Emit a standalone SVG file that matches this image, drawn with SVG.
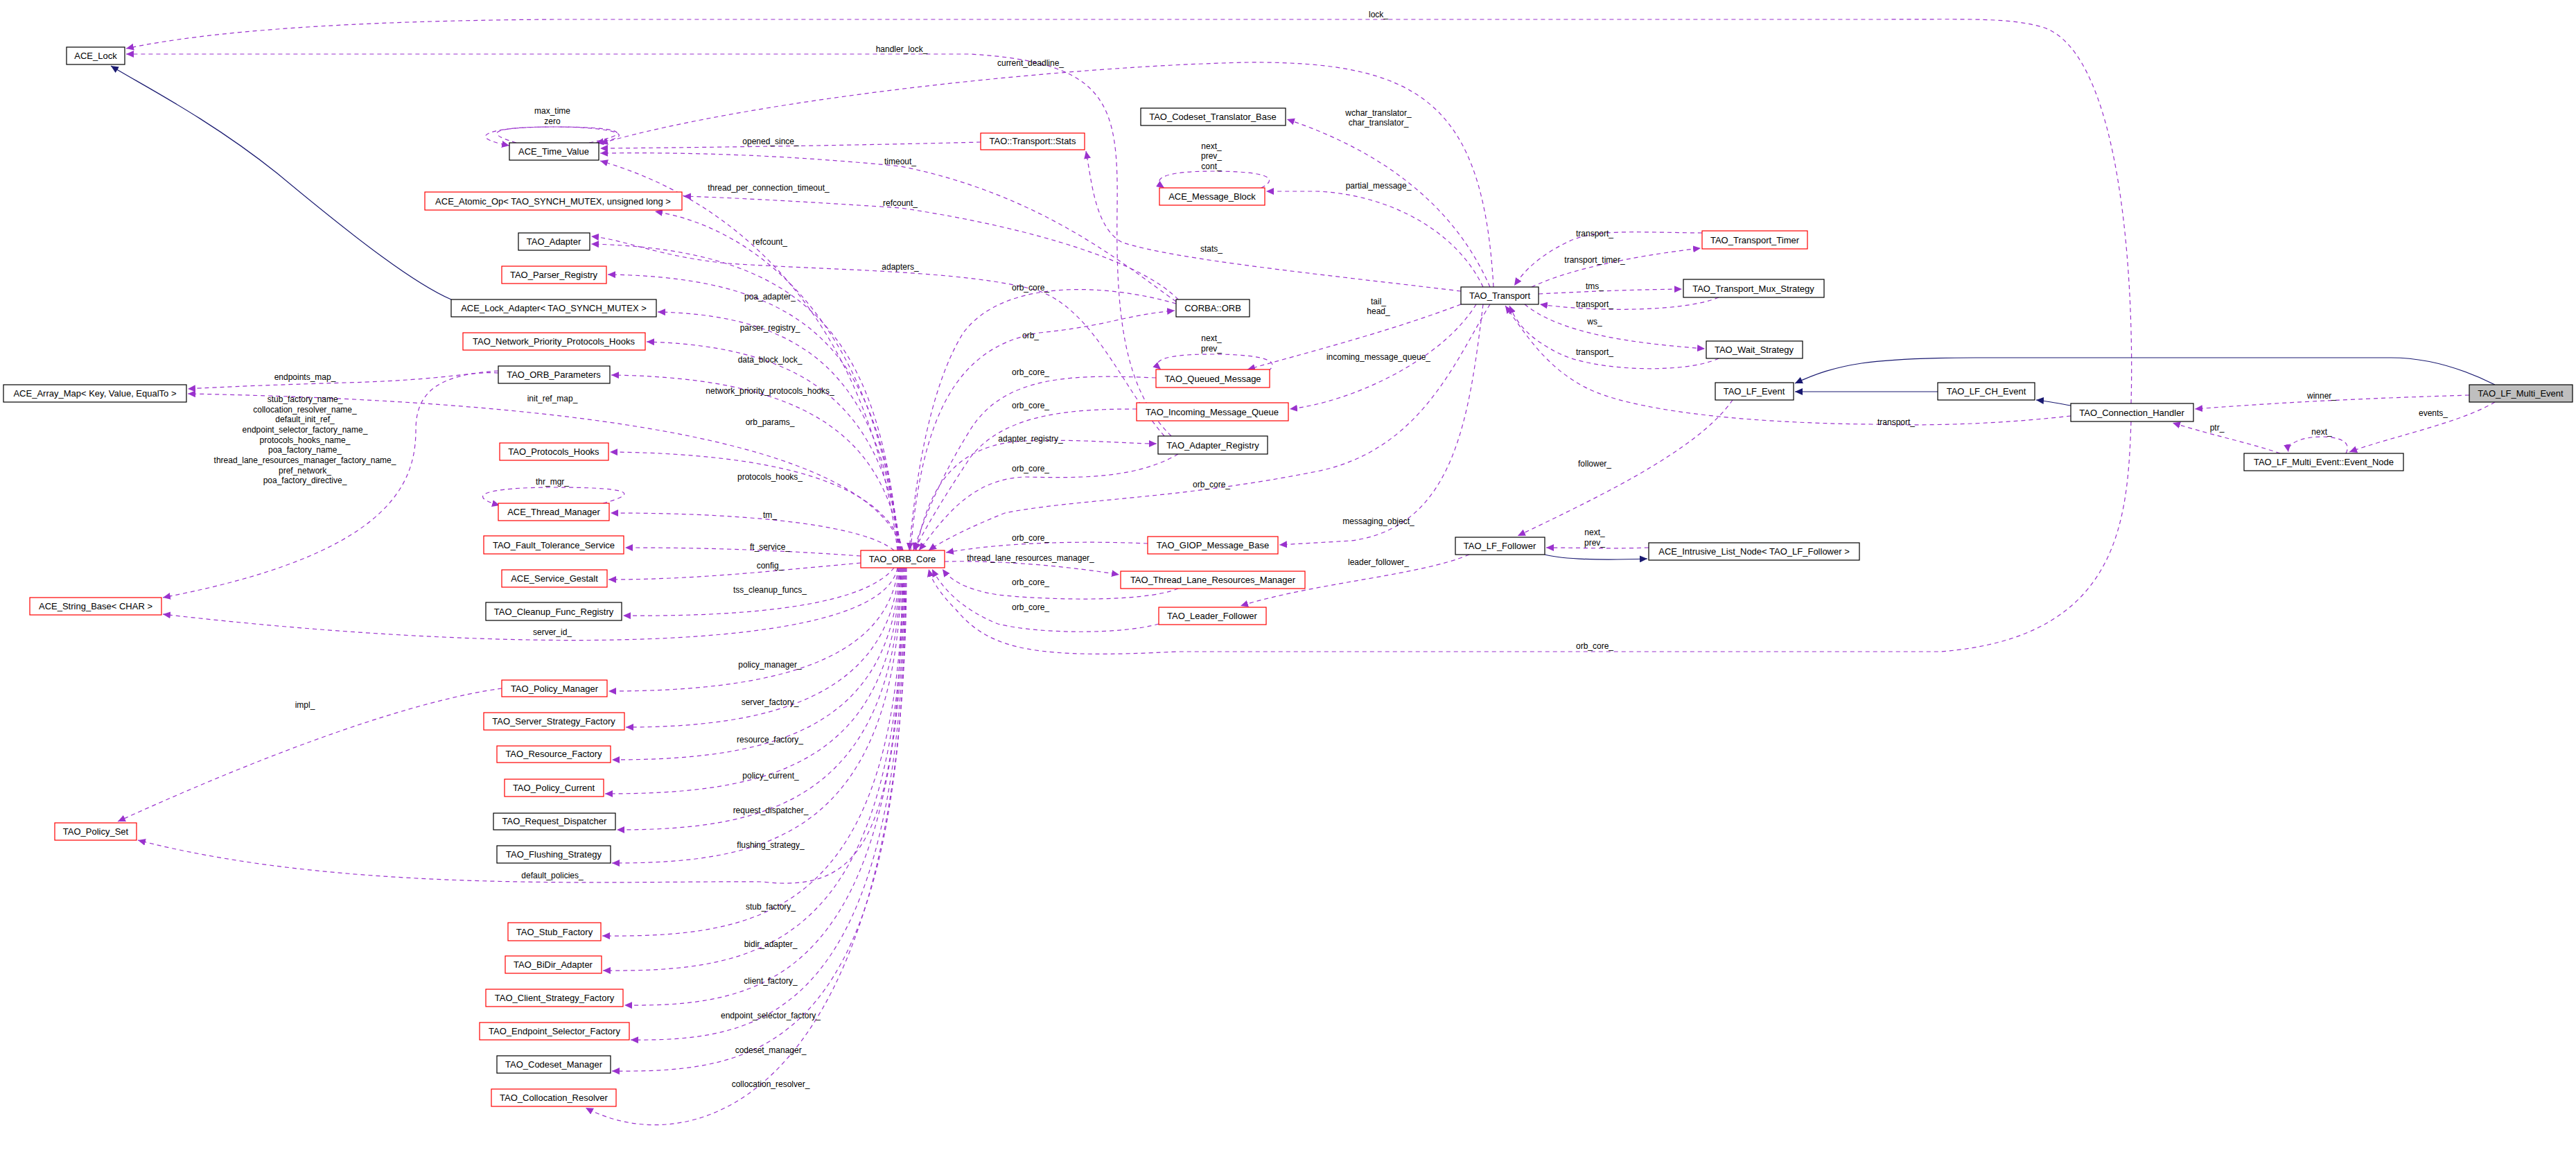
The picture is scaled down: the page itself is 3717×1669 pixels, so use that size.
<svg xmlns="http://www.w3.org/2000/svg" width="3717" height="1669" viewBox="0 0 3717 1669">
<style>
text{font-family:"Liberation Sans",Arial,sans-serif;font-size:13px;text-anchor:middle;fill:#000}
.l{font-size:12px}
.n rect{fill:#fff;stroke:#000;stroke-width:1.2}
.r rect{stroke:#ff0000}
.g rect{fill:#bfbfbf}
.e{fill:none;stroke:#9a32cd;stroke-width:1.2;stroke-dasharray:6,5;marker-end:url(#a)}
.i{fill:none;stroke:#191970;stroke-width:1.2;marker-end:url(#b)}
</style>
<defs>
<marker id="a" markerUnits="userSpaceOnUse" markerWidth="12" markerHeight="10" refX="11" refY="5" orient="auto"><path d="M0,0 L11,5 L0,10 z" fill="#9a32cd"/></marker>
<marker id="b" markerUnits="userSpaceOnUse" markerWidth="12" markerHeight="10" refX="11" refY="5" orient="auto"><path d="M0,0 L11,5 L0,10 z" fill="#191970"/></marker>
</defs>
<rect width="3717" height="1669" fill="#fff"/>
<g id="edges">
<path class="e" d="M3075,582 C3080,400 3060,80 2950,40 C2900,25 2850,28 2700,28 L800,28 C500,30 300,45 182,70"/>
<path class="e" d="M1690,629 C1620,560 1610,450 1612,300 C1614,150 1600,90 1400,78 L182,78"/>
<path class="e" d="M2155,414 C2140,150 2050,88 1800,90 C1550,95 1100,140 866,207"/>
<path class="e" d="M1415,205 C1300,208 1100,212 866,214"/>
<path class="e" d="M1697,435 C1620,380 1500,280 1300,240 C1100,220 950,220 866,221"/>
<path class="e" d="M1295,794 C1260,500 1100,300 866,232"/>
<path class="e" d="M1700,432 C1650,380 1500,330 1300,300 C1150,290 1050,285 986,283"/>
<path class="e" d="M1296,794 C1270,480 1100,330 945,305"/>
<path class="e" d="M2108,420 C1900,395 1700,375 1620,350 C1580,330 1575,260 1567,218"/>
<path class="e" d="M1680,629 C1620,560 1580,450 1500,420 C1400,390 1200,390 1050,380 C950,370 900,345 853,341"/>
<path class="e" d="M1297,794 C1270,500 1180,360 853,352"/>
<path class="e" d="M1298,794 C1270,520 1180,400 877,396"/>
<path class="e" d="M1299,794 C1270,560 1180,455 949,450"/>
<path class="e" d="M1300,794 C1275,600 1180,500 933,493"/>
<path class="e" d="M1301,794 C1275,640 1180,545 882,541"/>
<path class="e" d="M1302,794 C1260,650 900,580 271,568"/>
<path class="e" d="M719,538 C680,535 650,548 500,552 C400,555 320,558 271,561"/>
<path class="e" d="M719,535 C640,540 600,560 600,620 C600,700 560,800 235,862"/>
<path class="e" d="M1303,794 C1285,720 1180,655 880,652"/>
<path class="e" d="M870,726 C930,710 900,703 800,703 C700,703 670,715 721,729"/>
<path class="e" d="M1290,794 C1250,760 1100,740 881,740"/>
<path class="e" d="M1242,802 C1100,792 1000,790 902,790"/>
<path class="e" d="M1242,812 C1100,825 1000,836 878,836"/>
<path class="e" d="M1290,819 C1250,870 1100,890 899,888"/>
<path class="e" d="M1295,819 C1270,950 700,940 235,886"/>
<path class="e" d="M1296,819 C1280,960 1100,997 878,997"/>
<path class="e" d="M724,993 C600,1010 400,1080 170,1185"/>
<path class="e" d="M1297,819 C1285,1010 1100,1049 903,1049"/>
<path class="e" d="M1298,819 C1288,1060 1100,1096 883,1096"/>
<path class="e" d="M1299,819 C1290,1110 1100,1145 873,1145"/>
<path class="e" d="M1300,819 C1292,1160 1100,1197 890,1197"/>
<path class="e" d="M1301,819 C1294,1210 1100,1245 883,1245"/>
<path class="e" d="M1302,819 C1298,1200 1250,1290 1100,1272 C900,1270 500,1290 199,1212"/>
<path class="e" d="M1303,819 C1298,1320 1100,1352 869,1350"/>
<path class="e" d="M1304,819 C1300,1370 1100,1402 870,1400"/>
<path class="e" d="M1305,819 C1302,1420 1100,1452 901,1450"/>
<path class="e" d="M1306,819 C1304,1470 1100,1502 910,1500"/>
<path class="e" d="M1307,819 C1306,1520 1100,1547 883,1545"/>
<path class="e" d="M1308,819 C1308,1590 1000,1680 845,1598"/>
<path class="e" d="M850,206 C930,190 880,183 800,183 C700,183 670,198 735,210"/>
<path class="e" d="M745,206 C690,190 720,183 800,183 C880,183 930,195 860,206"/>
<path class="e" d="M1697,438 C1600,410 1450,400 1390,480 C1340,560 1320,700 1312,794"/>
<path class="e" d="M1314,794 C1330,600 1380,500 1500,480 C1600,470 1620,455 1695,448"/>
<path class="e" d="M1668,545 C1550,540 1450,540 1400,620 C1350,700 1330,760 1318,794"/>
<path class="e" d="M1640,590 C1550,590 1450,595 1400,660 C1360,720 1330,770 1320,794"/>
<path class="e" d="M1322,794 C1340,700 1380,640 1480,636 C1560,633 1620,640 1669,640"/>
<path class="e" d="M1700,655 C1640,690 1560,690 1480,688 C1400,690 1360,750 1326,794"/>
<path class="e" d="M2150,439 C2100,520 2050,650 1900,680 C1700,720 1550,720 1450,740 C1400,760 1360,780 1340,794"/>
<path class="e" d="M1656,784 C1560,780 1450,782 1365,797"/>
<path class="e" d="M1363,810 C1450,808 1550,818 1615,829"/>
<path class="e" d="M1700,849 C1650,870 1500,865 1440,858 C1390,850 1370,835 1360,821"/>
<path class="e" d="M1672,900 C1620,915 1500,915 1440,900 C1390,880 1360,850 1345,821"/>
<path class="e" d="M3075,608 C3070,750 3060,920 2800,940 L1700,940 C1500,950 1430,940 1380,880 C1360,860 1345,840 1340,821"/>
<path class="e" d="M2150,414 C2100,300 2000,220 1857,172"/>
<path class="e" d="M1820,271 C1850,255 1820,247 1748,247 C1680,247 1660,258 1680,271"/>
<path class="e" d="M2140,414 C2100,330 2000,280 1900,276 L1827,276"/>
<path class="e" d="M2108,439 C2000,480 1880,510 1800,533"/>
<path class="e" d="M1830,535 C1850,520 1820,511 1748,511 C1680,511 1660,520 1675,533"/>
<path class="e" d="M2130,439 C2080,520 1950,580 1861,590"/>
<path class="e" d="M2140,439 C2120,600 2100,760 1950,780 L1846,786"/>
<path class="e" d="M2456,336 C2350,335 2300,330 2260,350 C2220,370 2200,390 2185,412"/>
<path class="e" d="M2210,414 C2260,390 2350,370 2454,358"/>
<path class="e" d="M2220,424 C2300,420 2350,418 2427,417"/>
<path class="e" d="M2480,429 C2430,450 2300,450 2222,439"/>
<path class="e" d="M2200,439 C2250,480 2350,495 2460,503"/>
<path class="e" d="M2480,517 C2430,540 2300,535 2250,510 C2210,490 2190,470 2178,441"/>
<path class="e" d="M2988,600 C2900,610 2800,615 2700,612 C2500,610 2350,590 2290,560 C2230,530 2200,480 2172,441"/>
<path class="e" d="M2500,577 C2450,650 2300,720 2190,773"/>
<path class="e" d="M2120,800 C2050,830 1900,840 1790,874"/>
<path class="e" d="M2379,790 C2320,792 2280,790 2231,790"/>
<path class="e" d="M3563,570 C3400,575 3300,580 3167,590"/>
<path class="e" d="M3600,580 C3550,610 3450,630 3390,652"/>
<path class="e" d="M3385,654 C3395,635 3370,630 3350,630 C3320,630 3300,640 3302,652"/>
<path class="e" d="M3290,654 C3250,640 3200,630 3135,610"/>
<path class="i" d="M651,432 C600,410 520,350 400,250 C300,170 200,120 160,95"/>
<path class="i" d="M2229,800 C2260,808 2320,808 2377,806"/>
<path class="i" d="M2796,565 L2590,565"/>
<path class="i" d="M2988,585 C2960,580 2950,578 2938,577"/>
<path class="i" d="M3600,555 C3550,530 3500,516 3450,516 L2850,516 C2700,516 2650,525 2590,553"/>
</g>
<g id="labels">
<text class="l" x="1989" y="25">lock_</text>
<text class="l" x="1301" y="75">handler_lock_</text>
<text class="l" x="1487" y="95">current_deadline_</text>
<text class="l" x="797" y="164">max_time</text>
<text class="l" x="797" y="179">zero</text>
<text class="l" x="1989" y="167">wchar_translator_</text>
<text class="l" x="1989" y="181">char_translator_</text>
<text class="l" x="1112" y="208">opened_since_</text>
<text class="l" x="1748" y="215">next_</text>
<text class="l" x="1748" y="229">prev_</text>
<text class="l" x="1748" y="244">cont_</text>
<text class="l" x="1299" y="237">timeout_</text>
<text class="l" x="1989" y="272">partial_message_</text>
<text class="l" x="1109" y="275">thread_per_connection_timeout_</text>
<text class="l" x="1299" y="297">refcount_</text>
<text class="l" x="1111" y="353">refcount_</text>
<text class="l" x="1748" y="363">stats_</text>
<text class="l" x="1299" y="389">adapters_</text>
<text class="l" x="1487" y="419">orb_core_</text>
<text class="l" x="1111" y="432">poa_adapter_</text>
<text class="l" x="1989" y="439">tail_</text>
<text class="l" x="1989" y="453">head_</text>
<text class="l" x="1111" y="477">parser_registry_</text>
<text class="l" x="1487" y="488">orb_</text>
<text class="l" x="1748" y="492">next_</text>
<text class="l" x="1748" y="507">prev_</text>
<text class="l" x="1989" y="519">incoming_message_queue_</text>
<text class="l" x="1111" y="523">data_block_lock_</text>
<text class="l" x="1487" y="541">orb_core_</text>
<text class="l" x="440" y="548">endpoints_map_</text>
<text class="l" x="1111" y="568">network_priority_protocols_hooks_</text>
<text class="l" x="797" y="579">init_ref_map_</text>
<text class="l" x="440" y="580">stub_factory_name_</text>
<text class="l" x="440" y="595">collocation_resolver_name_</text>
<text class="l" x="440" y="609">default_init_ref_</text>
<text class="l" x="440" y="624">endpoint_selector_factory_name_</text>
<text class="l" x="440" y="639">protocols_hooks_name_</text>
<text class="l" x="440" y="653">poa_factory_name_</text>
<text class="l" x="440" y="668">thread_lane_resources_manager_factory_name_</text>
<text class="l" x="440" y="683">pref_network_</text>
<text class="l" x="440" y="697">poa_factory_directive_</text>
<text class="l" x="1487" y="589">orb_core_</text>
<text class="l" x="1111" y="613">orb_params_</text>
<text class="l" x="1487" y="637">adapter_registry_</text>
<text class="l" x="1487" y="680">orb_core_</text>
<text class="l" x="1111" y="692">protocols_hooks_</text>
<text class="l" x="797" y="699">thr_mgr_</text>
<text class="l" x="1748" y="703">orb_core_</text>
<text class="l" x="1111" y="747">tm_</text>
<text class="l" x="1989" y="756">messaging_object_</text>
<text class="l" x="1487" y="780">orb_core_</text>
<text class="l" x="1111" y="793">ft_service_</text>
<text class="l" x="1487" y="809">thread_lane_resources_manager_</text>
<text class="l" x="1989" y="815">leader_follower_</text>
<text class="l" x="1111" y="820">config_</text>
<text class="l" x="1487" y="844">orb_core_</text>
<text class="l" x="1111" y="855">tss_cleanup_funcs_</text>
<text class="l" x="1487" y="880">orb_core_</text>
<text class="l" x="797" y="916">server_id_</text>
<text class="l" x="2301" y="936">orb_core_</text>
<text class="l" x="1111" y="963">policy_manager_</text>
<text class="l" x="1111" y="1017">server_factory_</text>
<text class="l" x="440" y="1021">impl_</text>
<text class="l" x="1111" y="1071">resource_factory_</text>
<text class="l" x="1112" y="1123">policy_current_</text>
<text class="l" x="1112" y="1173">request_dispatcher_</text>
<text class="l" x="1112" y="1223">flushing_strategy_</text>
<text class="l" x="797" y="1267">default_policies_</text>
<text class="l" x="1112" y="1312">stub_factory_</text>
<text class="l" x="1112" y="1366">bidir_adapter_</text>
<text class="l" x="1112" y="1419">client_factory_</text>
<text class="l" x="1112" y="1469">endpoint_selector_factory_</text>
<text class="l" x="1112" y="1519">codeset_manager_</text>
<text class="l" x="1112" y="1568">collocation_resolver_</text>
<text class="l" x="2301" y="341">transport_</text>
<text class="l" x="2301" y="379">transport_timer_</text>
<text class="l" x="2301" y="417">tms_</text>
<text class="l" x="2301" y="443">transport_</text>
<text class="l" x="2301" y="468">ws_</text>
<text class="l" x="2301" y="512">transport_</text>
<text class="l" x="3350" y="575">winner_</text>
<text class="l" x="3511" y="600">events_</text>
<text class="l" x="2736" y="613">transport_</text>
<text class="l" x="3199" y="621">ptr_</text>
<text class="l" x="3350" y="627">next_</text>
<text class="l" x="2301" y="673">follower_</text>
<text class="l" x="2301" y="772">next_</text>
<text class="l" x="2301" y="787">prev_</text>
</g>
<g id="ACE_Lock" class="n"><rect x="96" y="68" width="84" height="25"/><text x="138" y="85">ACE_Lock</text></g>
<g id="ACE_Time_Value" class="n"><rect x="735" y="206" width="129" height="25"/><text x="799" y="223">ACE_Time_Value</text></g>
<g id="ACE_Atomic_Op" class="n r"><rect x="613" y="277" width="371" height="26"/><text x="798" y="295">ACE_Atomic_Op&lt; TAO_SYNCH_MUTEX, unsigned long &gt;</text></g>
<g id="TAO_Adapter" class="n"><rect x="748" y="336" width="103" height="25"/><text x="799" y="353">TAO_Adapter</text></g>
<g id="TAO_Parser_Registry" class="n r"><rect x="724" y="384" width="151" height="25"/><text x="799" y="401">TAO_Parser_Registry</text></g>
<g id="ACE_Lock_Adapter" class="n"><rect x="651" y="432" width="296" height="25"/><text x="799" y="449">ACE_Lock_Adapter&lt; TAO_SYNCH_MUTEX &gt;</text></g>
<g id="TAO_Network_Priority_Protocols_Hooks" class="n r"><rect x="668" y="480" width="263" height="25"/><text x="799" y="497">TAO_Network_Priority_Protocols_Hooks</text></g>
<g id="TAO_ORB_Parameters" class="n"><rect x="719" y="528" width="161" height="25"/><text x="799" y="545">TAO_ORB_Parameters</text></g>
<g id="ACE_Array_Map" class="n"><rect x="5" y="555" width="264" height="25"/><text x="137" y="572">ACE_Array_Map&lt; Key, Value, EqualTo &gt;</text></g>
<g id="TAO_Protocols_Hooks" class="n r"><rect x="721" y="639" width="157" height="25"/><text x="799" y="656">TAO_Protocols_Hooks</text></g>
<g id="ACE_Thread_Manager" class="n r"><rect x="719" y="726" width="160" height="25"/><text x="799" y="743">ACE_Thread_Manager</text></g>
<g id="TAO_Fault_Tolerance_Service" class="n r"><rect x="698" y="773" width="202" height="26"/><text x="799" y="791">TAO_Fault_Tolerance_Service</text></g>
<g id="ACE_Service_Gestalt" class="n r"><rect x="724" y="822" width="152" height="25"/><text x="800" y="839">ACE_Service_Gestalt</text></g>
<g id="TAO_Cleanup_Func_Registry" class="n"><rect x="701" y="869" width="196" height="26"/><text x="799" y="887">TAO_Cleanup_Func_Registry</text></g>
<g id="ACE_String_Base" class="n r"><rect x="43" y="862" width="190" height="25"/><text x="138" y="879">ACE_String_Base&lt; CHAR &gt;</text></g>
<g id="TAO_Policy_Manager" class="n r"><rect x="724" y="981" width="152" height="24"/><text x="800" y="998">TAO_Policy_Manager</text></g>
<g id="TAO_Server_Strategy_Factory" class="n r"><rect x="698" y="1028" width="203" height="25"/><text x="799" y="1045">TAO_Server_Strategy_Factory</text></g>
<g id="TAO_Resource_Factory" class="n r"><rect x="717" y="1076" width="164" height="24"/><text x="799" y="1092">TAO_Resource_Factory</text></g>
<g id="TAO_Policy_Current" class="n r"><rect x="728" y="1124" width="143" height="25"/><text x="799" y="1141">TAO_Policy_Current</text></g>
<g id="TAO_Request_Dispatcher" class="n"><rect x="712" y="1173" width="176" height="24"/><text x="800" y="1189">TAO_Request_Dispatcher</text></g>
<g id="TAO_Flushing_Strategy" class="n"><rect x="717" y="1220" width="164" height="25"/><text x="799" y="1237">TAO_Flushing_Strategy</text></g>
<g id="TAO_Policy_Set" class="n r"><rect x="79" y="1187" width="118" height="25"/><text x="138" y="1204">TAO_Policy_Set</text></g>
<g id="TAO_Stub_Factory" class="n r"><rect x="733" y="1331" width="134" height="26"/><text x="800" y="1349">TAO_Stub_Factory</text></g>
<g id="TAO_BiDir_Adapter" class="n r"><rect x="729" y="1379" width="139" height="25"/><text x="798" y="1396">TAO_BiDir_Adapter</text></g>
<g id="TAO_Client_Strategy_Factory" class="n r"><rect x="701" y="1427" width="198" height="25"/><text x="800" y="1444">TAO_Client_Strategy_Factory</text></g>
<g id="TAO_Endpoint_Selector_Factory" class="n r"><rect x="692" y="1475" width="216" height="25"/><text x="800" y="1492">TAO_Endpoint_Selector_Factory</text></g>
<g id="TAO_Codeset_Manager" class="n"><rect x="717" y="1523" width="164" height="25"/><text x="799" y="1540">TAO_Codeset_Manager</text></g>
<g id="TAO_Collocation_Resolver" class="n r"><rect x="709" y="1571" width="180" height="25"/><text x="799" y="1588">TAO_Collocation_Resolver</text></g>
<g id="TAO_Codeset_Translator_Base" class="n"><rect x="1646" y="156" width="209" height="25"/><text x="1750" y="173">TAO_Codeset_Translator_Base</text></g>
<g id="TAO_Transport_Stats" class="n r"><rect x="1415" y="192" width="150" height="24"/><text x="1490" y="208">TAO::Transport::Stats</text></g>
<g id="ACE_Message_Block" class="n r"><rect x="1673" y="271" width="152" height="25"/><text x="1749" y="288">ACE_Message_Block</text></g>
<g id="CORBA_ORB" class="n"><rect x="1697" y="432" width="106" height="25"/><text x="1750" y="449">CORBA::ORB</text></g>
<g id="TAO_Queued_Message" class="n r"><rect x="1668" y="533" width="164" height="26"/><text x="1750" y="551">TAO_Queued_Message</text></g>
<g id="TAO_Incoming_Message_Queue" class="n r"><rect x="1640" y="581" width="219" height="26"/><text x="1749" y="599">TAO_Incoming_Message_Queue</text></g>
<g id="TAO_Adapter_Registry" class="n"><rect x="1671" y="629" width="158" height="26"/><text x="1750" y="647">TAO_Adapter_Registry</text></g>
<g id="TAO_GIOP_Message_Base" class="n r"><rect x="1656" y="774" width="188" height="25"/><text x="1750" y="791">TAO_GIOP_Message_Base</text></g>
<g id="TAO_ORB_Core" class="n r"><rect x="1242" y="794" width="121" height="25"/><text x="1302" y="811">TAO_ORB_Core</text></g>
<g id="TAO_Thread_Lane_Resources_Manager" class="n r"><rect x="1617" y="824" width="266" height="25"/><text x="1750" y="841">TAO_Thread_Lane_Resources_Manager</text></g>
<g id="TAO_Leader_Follower" class="n r"><rect x="1672" y="876" width="155" height="25"/><text x="1749" y="893">TAO_Leader_Follower</text></g>
<g id="TAO_Transport" class="n"><rect x="2108" y="414" width="112" height="25"/><text x="2164" y="431">TAO_Transport</text></g>
<g id="TAO_Transport_Timer" class="n r"><rect x="2456" y="333" width="152" height="26"/><text x="2532" y="351">TAO_Transport_Timer</text></g>
<g id="TAO_Transport_Mux_Strategy" class="n"><rect x="2429" y="403" width="203" height="26"/><text x="2530" y="421">TAO_Transport_Mux_Strategy</text></g>
<g id="TAO_Wait_Strategy" class="n"><rect x="2462" y="492" width="139" height="25"/><text x="2531" y="509">TAO_Wait_Strategy</text></g>
<g id="TAO_LF_Event" class="n"><rect x="2475" y="552" width="113" height="25"/><text x="2531" y="569">TAO_LF_Event</text></g>
<g id="TAO_LF_CH_Event" class="n"><rect x="2796" y="552" width="140" height="25"/><text x="2866" y="569">TAO_LF_CH_Event</text></g>
<g id="TAO_Connection_Handler" class="n"><rect x="2988" y="582" width="177" height="26"/><text x="3076" y="600">TAO_Connection_Handler</text></g>
<g id="TAO_LF_Multi_Event" class="n g"><rect x="3563" y="555" width="149" height="25"/><text x="3637" y="572">TAO_LF_Multi_Event</text></g>
<g id="TAO_LF_Multi_Event_Event_Node" class="n"><rect x="3238" y="654" width="230" height="25"/><text x="3353" y="671">TAO_LF_Multi_Event::Event_Node</text></g>
<g id="TAO_LF_Follower" class="n"><rect x="2100" y="775" width="129" height="25"/><text x="2164" y="792">TAO_LF_Follower</text></g>
<g id="ACE_Intrusive_List_Node" class="n"><rect x="2379" y="783" width="304" height="25"/><text x="2531" y="800">ACE_Intrusive_List_Node&lt; TAO_LF_Follower &gt;</text></g>
</svg>
